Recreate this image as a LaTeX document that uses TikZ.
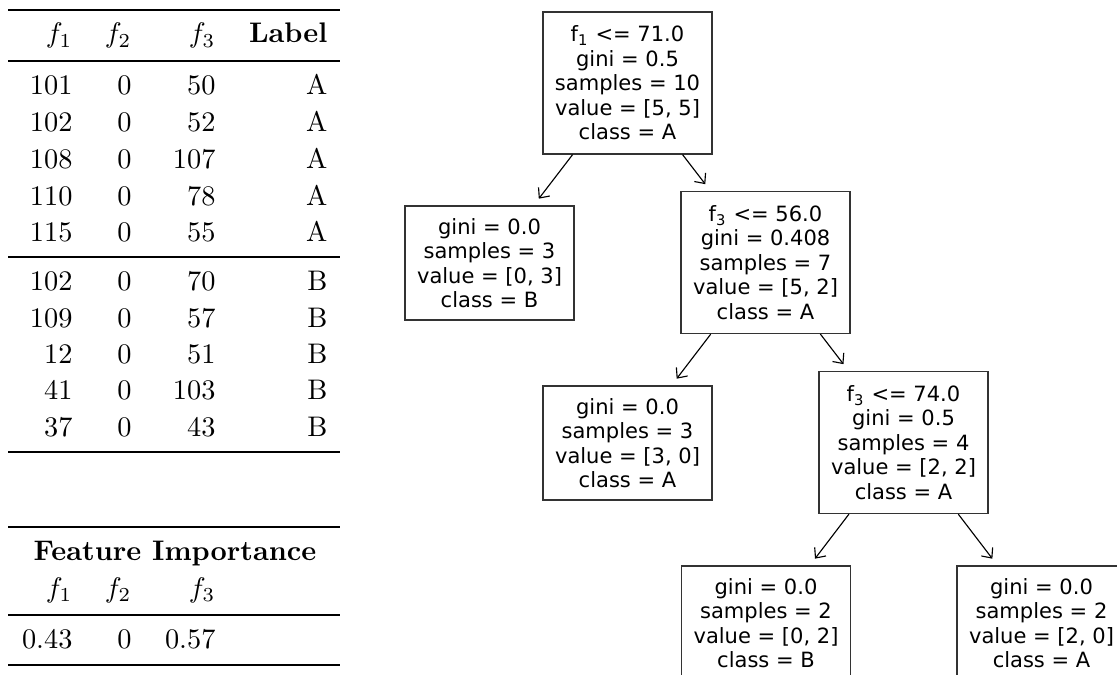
\documentclass[tikz,border=0pt]{standalone}
\usepackage{fontspec}
\newfontfamily\treefont{DejaVu Sans}
\usetikzlibrary{arrows.meta}

\tikzset{
  cell/.style={anchor=base east, inner sep=0pt},
  heavyrule/.style={line width=0.9pt},
  lightrule/.style={line width=0.55pt},
  treebox/.style={draw=black!80, line width=0.45pt, inner sep=0pt, minimum width=59.6pt,
    align=center, font=\treefont\fontsize{7.42}{8.65}\selectfont},
  decision/.style={treebox, minimum height=50.1pt},
  leafbox/.style={treebox, minimum height=40.2pt},
  treearrow/.style={line width=0.4pt, -{Straight Barb[length=2.8pt,width=5pt]}, shorten >=3pt},
}

\begin{document}
\begin{tikzpicture}[x=0.353pt, y=-0.353pt]
\useasboundingbox (0,0) rectangle (1117,675);
\clip (0,0) rectangle (1117,675);

% data table
\draw[heavyrule] (8,10) -- (340,10);
\node[cell] (h1) at (73,43) {$f_1$};
\node[cell] (h2) at (132,43) {$f_2$};
\node[cell] (h3) at (216,43) {$f_3$};
\node[cell] (h4) at (328,43) {\textbf{Label}};
\draw[lightrule] (8,61) -- (340,61);

\foreach \fa/\fb/\fc/\lab [count=\i] in {101/0/50/A, 102/0/52/A, 108/0/107/A, 110/0/78/A, 115/0/55/A}{
  \pgfmathsetmacro{\yy}{95+36.75*(\i-1)}
  \node[cell] (a\i) at (73,\yy) {\fa};
  \node[cell] (b\i) at (132,\yy) {\fb};
  \node[cell] (c\i) at (216,\yy) {\fc};
  \node[cell] (l\i) at (328,\yy) {\lab};
}
\draw[lightrule] (8,257) -- (340,257);

\foreach \fa/\fb/\fc/\lab [count=\i from 6] in {102/0/70/B, 109/0/57/B, 12/0/51/B, 41/0/103/B, 37/0/43/B}{
  \pgfmathsetmacro{\yy}{291+36.25*(\i-6)}
  \node[cell] (a\i) at (73,\yy) {\fa};
  \node[cell] (b\i) at (132,\yy) {\fb};
  \node[cell] (c\i) at (216,\yy) {\fc};
  \node[cell] (l\i) at (328,\yy) {\lab};
}
\draw[heavyrule] (8,452) -- (340,452);

% importance table
\draw[heavyrule] (8,527) -- (340,527);
\node[anchor=base, inner sep=0pt] (fi) at (175,560) {\textbf{Feature Importance}};
\node[cell] (g1) at (73,597) {$f_1$};
\node[cell] (g2) at (132,597) {$f_2$};
\node[cell] (g3) at (216,597) {$f_3$};
\draw[lightrule] (8,615) -- (340,615);
\node[cell] (v1) at (73,648) {0.43};
\node[cell] (v2) at (132,648) {0};
\node[cell] (v3) at (216,648) {0.57};
\draw[heavyrule] (8,665) -- (340,665);

% tree
\node[decision] (root) at (627.5,83) {f\textsubscript{1} <= 71.0\\gini = 0.5\\samples = 10\\value = [5, 5]\\class = A};
\node[leafbox] (left) at (489.5,263) {gini = 0.0\\samples = 3\\value = [0, 3]\\class = B};
\node[decision] (right) at (765.5,262.5) {f\textsubscript{3} <= 56.0\\gini = 0.408\\samples = 7\\value = [5, 2]\\class = A};
\node[leafbox] (rl) at (627.5,443) {gini = 0.0\\samples = 3\\value = [3, 0]\\class = A};
\node[decision] (rr) at (903.5,442.5) {f\textsubscript{3} <= 74.0\\gini = 0.5\\samples = 4\\value = [2, 2]\\class = A};
\node[leafbox] (rrl) at (766,623) {gini = 0.0\\samples = 2\\value = [0, 2]\\class = B};
\node[leafbox] (rrr) at (1041.5,623) {gini = 0.0\\samples = 2\\value = [2, 0]\\class = A};

\draw[treearrow] (root) -- (left);
\draw[treearrow] (root) -- (right);
\draw[treearrow] (right) -- (rl);
\draw[treearrow] (right) -- (rr);
\draw[treearrow] (rr) -- (rrl);
\draw[treearrow] (rr) -- (rrr);
\end{tikzpicture}
\end{document}
